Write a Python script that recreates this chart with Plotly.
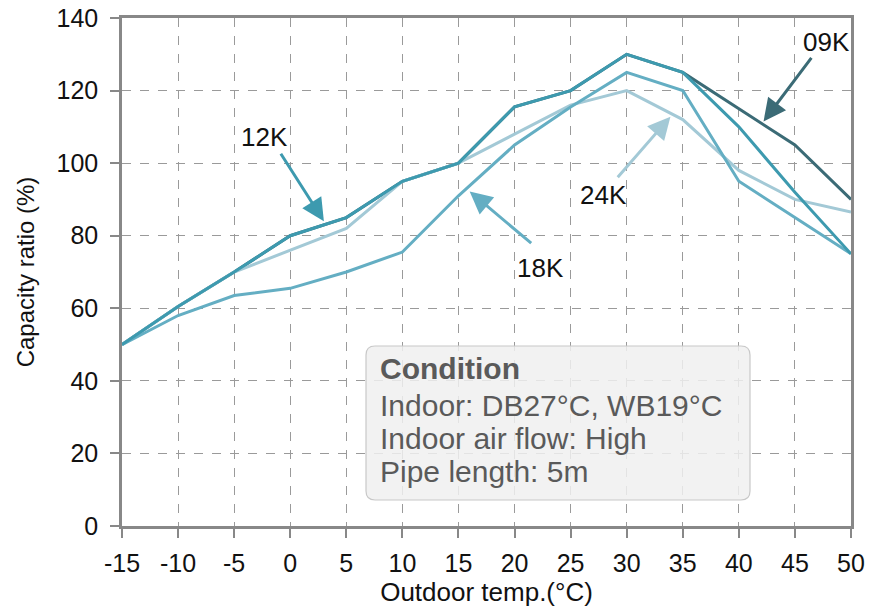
import plotly.graph_objects as go

# ---- data ----
outdoor_temp = [-15, -10, -5, 0, 5, 10, 15, 20, 25, 30, 35, 40, 45, 50]
cap_09k = [50, 60.5, 70, 80, 85, 95, 100, 115.5, 120, 130, 125, 115, 105, 90]
cap_12k = [50, 60.5, 70, 80, 85, 95, 100, 115.5, 120, 130, 125, 110, 92, 75]
cap_18k = [50, 58, 63.5, 65.5, 70, 75.5, 91, 105, 115.5, 125, 120, 95, 85, 75]
cap_24k = [50, 60.5, 70, 76, 82, 95, 100, 108, 116, 120, 112, 98, 90, 86.5]

series_names = ["09K", "24K", "18K", "12K"]
series_values = [cap_09k, cap_24k, cap_18k, cap_12k]
series_colors = ["#3b6b76", "#a3c9d6", "#64aec3", "#3d9aaf"]

x_ticks = [-15, -10, -5, 0, 5, 10, 15, 20, 25, 30, 35, 40, 45, 50]
y_ticks = [0, 20, 40, 60, 80, 100, 120, 140]

condition_lines = ["Indoor: DB27°C, WB19°C", "Indoor air flow: High", "Pipe length: 5m"]

FONT = "Liberation Sans, Arial, sans-serif"

# plot-area geometry in page pixels (used only for placing text/box in paper units)
PX_L, PX_W, PX_B, PX_H = 122, 729, 526, 508


def px(xp):
    return (xp - PX_L) / PX_W


def py(yp):
    return (PX_B - yp) / PX_H


fig = go.Figure()
for name, vals, col in zip(series_names, series_values, series_colors):
    fig.add_trace(go.Scatter(x=outdoor_temp, y=vals, mode="lines", name=name,
                             line=dict(color=col, width=3), showlegend=False))

# arrow annotations: (label, head x, head y, tail dx, tail dy, text px x, text px y, color)
arrows = [
    ("12K", 3.0, 84.0, -44, -69, 264, 137, "#3d9aaf"),
    ("18K", 16.0, 92.2, 63, 53, 540, 268, "#64aec3"),
    ("24K", 33.9, 112.8, -54, 62, 603, 195, "#a3c9d6"),
    ("09K", 42.2, 111.5, 49, -65, 826, 42, "#3b6b76"),
]
for lab, hx, hy, dx, dy, tx, ty, col in arrows:
    fig.add_annotation(x=hx, y=hy, xref="x", yref="y", text="", showarrow=True,
                       ax=dx, ay=dy, axref="pixel", ayref="pixel",
                       arrowhead=2, arrowsize=1.5, arrowwidth=3, arrowcolor=col)
    fig.add_annotation(x=px(tx), y=py(ty), xref="paper", yref="paper",
                       text=lab, showarrow=False, xanchor="center", yanchor="middle",
                       font=dict(family=FONT, size=26, color="#111"))

# condition box (rounded)
x0, x1 = px(366), px(750)
y0, y1 = py(500), py(346)
rx, ry = 9 / PX_W, 9 / PX_H
path = (f"M {x0+rx},{y1} L {x1-rx},{y1} Q {x1},{y1} {x1},{y1-ry} "
        f"L {x1},{y0+ry} Q {x1},{y0} {x1-rx},{y0} L {x0+rx},{y0} "
        f"Q {x0},{y0} {x0},{y0+ry} L {x0},{y1-ry} Q {x0},{y1} {x0+rx},{y1} Z")
fig.add_shape(type="path", path=path, xref="paper", yref="paper",
              fillcolor="rgba(240,240,240,0.85)", line=dict(color="#c8c8c8", width=1.2),
              layer="above")

fig.add_annotation(x=px(378), y=py(368), xref="paper", yref="paper",
                   text="<b>Condition</b>", showarrow=False, xanchor="left", yanchor="middle",
                   font=dict(family=FONT, size=30, color="#5a5a5a"))
for i, line in enumerate(condition_lines):
    ypx = [405, 438, 471][i]
    fig.add_annotation(x=px(378), y=py(ypx), xref="paper", yref="paper",
                       text=line, showarrow=False, xanchor="left", yanchor="middle",
                       font=dict(family=FONT, size=30, color="#5a5a5a"))

axis_common = dict(showline=True, linecolor="#888888", linewidth=2.5, mirror=True,
                   ticks="outside", ticklen=9, tickwidth=2, tickcolor="#888888",
                   showgrid=True, gridcolor="#9a9a9a", gridwidth=1.2, griddash="dash",
                   zeroline=False, automargin=False,
                   tickfont=dict(family=FONT, size=25, color="#111"))

fig.update_xaxes(range=[-15, 50], tickvals=x_ticks, ticktext=[str(v) for v in x_ticks],
                 ticklabelstandoff=4,
                 title=dict(text="Outdoor temp.(°C)", font=dict(family=FONT, size=26, color="#111"),
                            standoff=8),
                 **axis_common)
fig.update_yaxes(range=[0, 140], tickvals=y_ticks, ticklabelstandoff=7,
                 title=dict(text="Capacity ratio (%)", font=dict(family=FONT, size=24, color="#111"),
                            standoff=16),
                 **axis_common)

fig.update_layout(width=887, height=613, margin=dict(l=122, r=36, t=18, b=87),
                  plot_bgcolor="white", paper_bgcolor="white",
                  font=dict(family=FONT))

# remove the page's default body margin so the figure fills the window exactly
fig.write_html("out.html", config={"displayModeBar": False},
               post_script="document.body.style.margin='0';")
